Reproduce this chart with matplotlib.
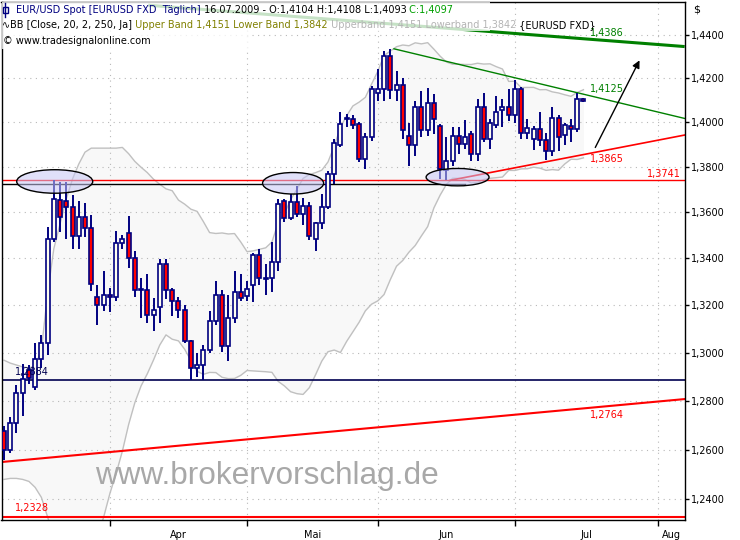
import numpy as np
import pandas as pd
import matplotlib
matplotlib.use("Agg")
import matplotlib.pyplot as plt
from matplotlib.patches import Ellipse, Rectangle
from matplotlib.lines import Line2D
from matplotlib.ticker import NullLocator

plt.rcParams['font.family'] = ['DejaVu Sans']

# daily candles EUR/USD, 09.03.2009 - 16.07.2009
dates = pd.bdate_range('2009-03-09', '2009-07-16')

opens = [1.2677, 1.2600, 1.2710, 1.2832, 1.2927, 1.2857, 1.2973, 1.3040, 1.3486, 1.3656,
         1.3652, 1.3624, 1.3498, 1.3581, 1.3533, 1.3233, 1.3200, 1.3242, 1.3233, 1.3467,
         1.3511, 1.3403, 1.3267, 1.3264, 1.3158, 1.3190, 1.3374, 1.3264, 1.3219, 1.3179,
         1.3047, 1.2936, 1.2947, 1.3011, 1.3133, 1.3243, 1.3026, 1.3144, 1.3257, 1.3237,
         1.3285, 1.3416, 1.3314, 1.3314, 1.3385, 1.3652, 1.3575, 1.3647, 1.3594, 1.3630,
         1.3486, 1.3553, 1.3625, 1.3769, 1.3898, 1.4021, 1.4014, 1.3991, 1.3835, 1.3932,
         1.4131, 1.4149, 1.4304, 1.4145, 1.4168, 1.3939, 1.3898, 1.4069, 1.3966, 1.4089,
         1.3984, 1.3788, 1.3828, 1.3939, 1.3902, 1.3947, 1.3858, 1.4071, 1.3927, 1.3987,
         1.4056, 1.4071, 1.4032, 1.4149, 1.3950, 1.3927, 1.3972, 1.3921, 1.3871, 1.4021,
         1.3942, 1.3984, 1.3969, 1.4104]

highs = [1.2697, 1.2734, 1.2867, 1.2952, 1.2949, 1.3040, 1.3074, 1.3537, 1.3741, 1.3734,
         1.3734, 1.3678, 1.3650, 1.3642, 1.3589, 1.3285, 1.3344, 1.3271, 1.3520, 1.3500,
         1.3586, 1.3434, 1.3314, 1.3335, 1.3229, 1.3399, 1.3399, 1.3271, 1.3233, 1.3200,
         1.3053, 1.2998, 1.3032, 1.3174, 1.3302, 1.3263, 1.3243, 1.3347, 1.3332, 1.3302,
         1.3425, 1.3442, 1.3378, 1.3473, 1.3659, 1.3659, 1.3681, 1.3717, 1.3662, 1.3645,
         1.3560, 1.3681, 1.3783, 1.3924, 1.4047, 1.4036, 1.4032, 1.4001, 1.3954, 1.4164,
         1.4240, 1.4324, 1.4335, 1.4232, 1.4202, 1.3999, 1.4096, 1.4141, 1.4157, 1.4126,
         1.3991, 1.3932, 1.3981, 1.3981, 1.4011, 1.3960, 1.4107, 1.4134, 1.4014, 1.4119,
         1.4104, 1.4152, 1.4194, 1.4158, 1.4014, 1.3984, 1.4047, 1.3954, 1.4067, 1.4032,
         1.3999, 1.4014, 1.4131, 1.4108]

lows = [1.2560, 1.2588, 1.2669, 1.2738, 1.2869, 1.2845, 1.2936, 1.2991, 1.3473, 1.3516,
        1.3486, 1.3442, 1.3442, 1.3494, 1.3259, 1.3115, 1.3174, 1.3169, 1.3216, 1.3442,
        1.3357, 1.3233, 1.3144, 1.3123, 1.3091, 1.3123, 1.3226, 1.3153, 1.3144, 1.3040,
        1.2884, 1.2897, 1.2886, 1.2998, 1.3115, 1.3002, 1.2966, 1.3123, 1.3216, 1.3216,
        1.3215, 1.3285, 1.3243, 1.3257, 1.3347, 1.3560, 1.3565, 1.3581, 1.3543, 1.3481,
        1.3434, 1.3529, 1.3615, 1.3725, 1.3887, 1.3981, 1.3972, 1.3823, 1.3791, 1.3915,
        1.4096, 1.4096, 1.4104, 1.4096, 1.3927, 1.3803, 1.3850, 1.3932, 1.3939, 1.3947,
        1.3747, 1.3741, 1.3803, 1.3858, 1.3880, 1.3828, 1.3828, 1.3910, 1.3880, 1.3976,
        1.3981, 1.4006, 1.3999, 1.3924, 1.3924, 1.3875, 1.3895, 1.3832, 1.3850, 1.3872,
        1.3898, 1.3912, 1.3957, 1.4093]

closes = [1.2600, 1.2710, 1.2832, 1.2891, 1.2894, 1.2973, 1.3040, 1.3486, 1.3659, 1.3579,
          1.3623, 1.3498, 1.3581, 1.3533, 1.3288, 1.3200, 1.3242, 1.3233, 1.3468, 1.3482,
          1.3403, 1.3264, 1.3263, 1.3158, 1.3178, 1.3374, 1.3264, 1.3219, 1.3179, 1.3047,
          1.2936, 1.2947, 1.3011, 1.3133, 1.3243, 1.3026, 1.3144, 1.3257, 1.3232, 1.3268,
          1.3416, 1.3314, 1.3312, 1.3385, 1.3637, 1.3575, 1.3647, 1.3594, 1.3630, 1.3497,
          1.3553, 1.3625, 1.3769, 1.3905, 1.3994, 1.4014, 1.3987, 1.3835, 1.3932, 1.4152,
          1.4149, 1.4304, 1.4145, 1.4168, 1.3964, 1.3899, 1.4069, 1.3964, 1.4089, 1.4014,
          1.3791, 1.3828, 1.3939, 1.3902, 1.3932, 1.3858, 1.4069, 1.3927, 1.3996, 1.4048,
          1.4071, 1.4032, 1.4149, 1.3950, 1.3976, 1.3969, 1.3921, 1.3871, 1.4021, 1.3935,
          1.3987, 1.3969, 1.4104, 1.4097]

# bollinger values for the first 19 days (window starts before the visible range)
upper_early = [1.2968, 1.2956, 1.2948, 1.2940, 1.2936, 1.2944, 1.3010, 1.3250, 1.3442, 1.3550,
               1.3659, 1.3747, 1.3813, 1.3866, 1.3884, 1.3884, 1.3884, 1.3884, 1.3884]
lower_early = [1.2480, 1.2484, 1.2484, 1.2480, 1.2472, 1.2448, 1.2408, 1.2330, 1.2250, 1.2200,
               1.2160, 1.2130, 1.2110, 1.2110, 1.2130, 1.2250, 1.2330, 1.2424, 1.2504]

# drawn lines: (index, price) pairs
hl_support = 1.3741
hl_support2 = 1.3725
hl_low = 1.2884
hl_bottom = 1.2328
trend_long = [(-0.4, 1.2550), (109.3, 1.2807)]
trend_top = [(62.6, 1.4335), (109.3, 1.4017)]
trend_low = [(71.6, 1.3741), (109.3, 1.3943)]
trend_big = [(23.4, 1.4537), (109.0, 1.4346)]
ellipses = [(8.14, 1.3736, 12.2, 0.0104), (46.4, 1.3728, 9.8, 0.0095), (72.8, 1.3755, 10.1, 0.0077)]
arrow_from = (94.9, 1.3887)
arrow_to = (102.0, 1.4282)

yticks = [1.24, 1.26, 1.28, 1.30, 1.32, 1.34, 1.36, 1.38, 1.40, 1.42, 1.44]
month_names = ['Apr', 'Mai', 'Jun', 'Jul', 'Aug']

W, H = 740, 540
fig = plt.figure(figsize=(W / 100, H / 100), dpi=100)
ax = fig.add_axes([1.5 / W, (H - 520) / H, 683.5 / W, 518.5 / H])

x = np.arange(len(dates))
o = np.array(opens)
c = np.array(closes)

cs = pd.Series(closes)
mid = cs.rolling(20).mean()
sd = cs.rolling(20).std(ddof=0)
upper = (mid + 2 * sd).to_numpy()
lower = (mid - 2 * sd).to_numpy()
upper[:19] = upper_early
lower[:19] = lower_early

ax.set_yscale('log')
xmin, xmax = -0.4, 109.3
ax.set_xlim(xmin, xmax)
ax.set_ylim(1.2318, 1.4555)

# bollinger band
ax.fill_between(x, lower, upper, color='#f8f8f8', lw=0, zorder=0.5)
ax.plot(x, upper, color='#c0c0c0', lw=1, zorder=1)
ax.plot(x, lower, color='#c0c0c0', lw=1, zorder=1)

# grid
full = pd.bdate_range('2009-03-09', '2009-08-31')
starts = [i for i in range(1, len(full)) if full[i].month != full[i - 1].month]
for s in starts:
    ax.axvline(s, color='#b8b8b8', lw=0.8, ls=(0, (1, 4)), zorder=0.8)
for v in yticks:
    ax.axhline(v, color='#b8b8b8', lw=0.8, ls=(0, (1, 4)), zorder=0.8)

# watermark
ax.text(267 / W, 1 - 476 / H, 'www.brokervorschlag.de', transform=fig.transFigure,
        fontsize=22.7, family='Liberation Sans', color='#a8a8a8', ha='center', va='center', zorder=1.2)

# candles
up = c >= o
ax.vlines(x, lows, highs, color='#000080', lw=1.4, zorder=3)
ax.bar(x, c - o, bottom=o, width=0.64, color=np.where(up, '#fffff0', '#ff0000'),
       edgecolor='#000080', linewidth=1.2, zorder=4)

# horizontal lines
ax.axhline(hl_support, color='#ff0000', lw=1, zorder=2)
ax.plot([xmin, 74], [hl_support2, hl_support2], color='black', lw=1, zorder=2)
ax.axhline(hl_low, color='#000050', lw=1.2, zorder=2)
ax.axhline(hl_bottom, color='#ff0000', lw=1.5, zorder=2)

# trend lines
for pts, col, lw in [(trend_long, '#ff0000', 1.5), (trend_top, '#008000', 1),
                     (trend_low, '#ff0000', 1.2), (trend_big, '#008000', 2.2)]:
    ax.plot([p[0] for p in pts], [p[1] for p in pts], color=col, lw=lw, zorder=2.5)

for cx, cy, w, h in ellipses:
    ax.add_patch(Ellipse((cx, cy), w, h, facecolor=(0.78, 0.78, 0.96, 0.55),
                         edgecolor='black', lw=1, zorder=5))

ax.annotate('', xy=arrow_to, xytext=arrow_from,
            arrowprops=dict(arrowstyle='-|>', color='black', lw=1, mutation_scale=11,
                            shrinkA=0, shrinkB=0), zorder=6)

# value labels
fs = 7
ax.text(94.0, 1.4409, '1,4386', color='#008000', fontsize=fs, va='center', zorder=6)
ax.text(94.0, 1.4149, '1,4125', color='#008000', fontsize=fs, va='center', zorder=6)
ax.text(94.0, 1.3835, '1,3865', color='#ff0000', fontsize=fs, va='center', zorder=6)
ax.text(108.7, 1.3769, '1,3741', color='#ff0000', fontsize=fs, va='center', ha='right', zorder=6)
ax.text(94.0, 1.2742, '1,2764', color='#ff0000', fontsize=fs, va='center', zorder=6)
ax.text(1.8, 1.2919, '1,2884', color='#000050', fontsize=fs, va='center', zorder=6)
ax.text(1.8, 1.2364, '1,2328', color='#ff0000', fontsize=fs, va='center', zorder=6)

# header background (semi transparent)
ax.add_patch(Rectangle((2 / W, 1 - 31 / H), 488 / W, 29 / H, transform=fig.transFigure,
                       facecolor='white', alpha=0.78, lw=0, zorder=7))
ax.add_patch(Rectangle((2 / W, 1 - 49 / H), 246 / W, 18 / H, transform=fig.transFigure,
                       facecolor='white', alpha=0.78, lw=0, zorder=7))

# axes styling
ax.yaxis.tick_right()
ax.set_yticks(yticks)
ax.set_yticklabels([f'{v:.4f}'.replace('.', ',') for v in yticks])
ax.yaxis.set_minor_locator(NullLocator())
ax.tick_params(axis='y', which='major', direction='out', length=3, width=1, pad=1, labelsize=fs)

mids = [(starts[k] + starts[k + 1]) / 2 for k in range(len(starts) - 1)] + [(starts[-1] + xmax) / 2]
ax.set_xticks(mids)
ax.set_xticklabels(month_names)
ax.set_xticks(starts, minor=True)
ax.tick_params(axis='x', which='major', length=0, pad=7, labelsize=fs)
ax.tick_params(axis='x', which='minor', direction='out', length=4, width=1)
for sp in ax.spines.values():
    sp.set_color('black')
    sp.set_linewidth(1)

fig.text(693 / W, 1 - 10 / H, '$', fontsize=8, va='center')

# header text, pieces in different colours
renderer = fig.canvas.get_renderer()


def pieces(x0, y0, parts):
    xp = x0
    for s, col in parts:
        t = fig.text(xp / W, 1 - y0 / H, s, color=col, fontsize=fs, va='center', ha='left')
        xp += t.get_window_extent(renderer).width


pieces(16, 10, [('EUR/USD Spot [EURUSD FXD  Täglich]', '#000080'),
                (' 16.07.2009 - O:1,4104 H:1,4108 L:1,4093', 'black'),
                (' C:1,4097', '#00a000')])
pieces(2, 25, [('∿', 'black'), ('BB [Close, 20, 2, 250, Ja]', 'black'),
               (' Upper Band 1,4151 Lower Band 1,3842', '#808000'),
               (' Upperband 1,4151 Lowerband 1,3842', '#b4b4b4'),
               (' {EURUSD FXD}', 'black')])
pieces(3, 41, [('© www.tradesignalonline.com', 'black')])

# small candle icon in front of the title
fig.add_artist(Line2D([5 / W, 5 / W], [1 - 3 / H, 1 - 17 / H], color='#000080', lw=1))
fig.add_artist(Rectangle((3 / W, 1 - 13 / H), 4.5 / W, 6 / H, facecolor='white',
                         edgecolor='#000080', lw=1))

fig.savefig('out.png', dpi=100)
